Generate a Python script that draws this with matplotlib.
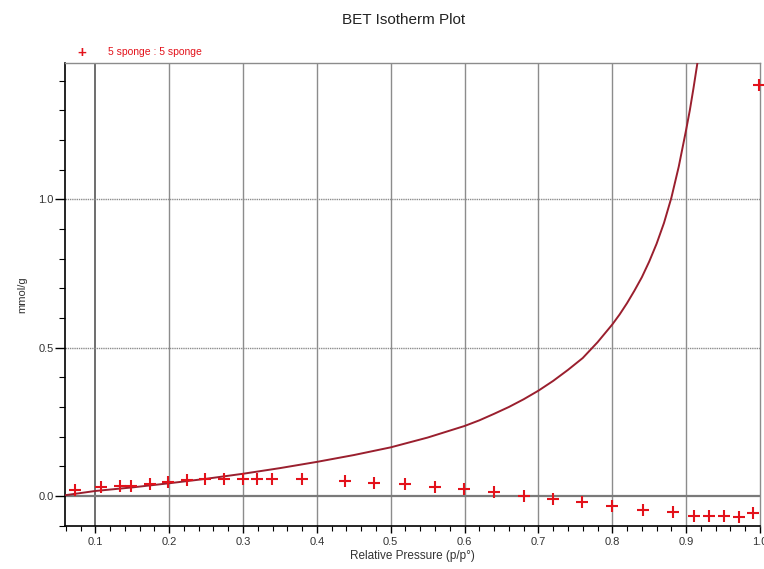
import matplotlib
matplotlib.use("Agg")
from matplotlib import pyplot as plt
from matplotlib.ticker import MultipleLocator

plt.rcParams['font.family'] = ['Liberation Sans', 'DejaVu Sans']

# measured isotherm points (relative pressure, mmol/g)
p_meas = [0.073, 0.108, 0.133, 0.149, 0.174, 0.199, 0.224, 0.248, 0.274, 0.300,
          0.319, 0.339, 0.380, 0.438, 0.478, 0.520, 0.560, 0.599, 0.640, 0.680,
          0.720, 0.759, 0.799, 0.841, 0.882, 0.911, 0.931, 0.951, 0.972, 0.991,
          0.999]
q_meas = [0.020, 0.029, 0.034, 0.035, 0.040, 0.048, 0.054, 0.057, 0.057, 0.057,
          0.057, 0.057, 0.057, 0.052, 0.045, 0.040, 0.031, 0.024, 0.015, 0.000,
          -0.010, -0.021, -0.033, -0.047, -0.055, -0.066, -0.066, -0.066, -0.070, -0.056,
          1.385]

# BET fit line
p_fit = [0.050, 0.06, 0.10, 0.15, 0.20, 0.25, 0.30, 0.35, 0.40, 0.45, 0.50, 0.55,
         0.60, 0.62, 0.64, 0.66, 0.68, 0.70, 0.72, 0.74, 0.76, 0.78,
         0.80, 0.81, 0.82, 0.83, 0.84, 0.85, 0.86, 0.87, 0.88, 0.89,
         0.90, 0.905, 0.91, 0.915, 0.92]
q_fit = [0.000, 0.003, 0.017, 0.029, 0.043, 0.058, 0.075, 0.094, 0.115, 0.138, 0.164, 0.197,
         0.236, 0.255, 0.277, 0.300, 0.326, 0.355, 0.388, 0.425, 0.465, 0.518,
         0.578, 0.612, 0.650, 0.692, 0.737, 0.790, 0.850, 0.920, 1.005, 1.110,
         1.234, 1.300, 1.375, 1.455, 1.540]

series_name = "5 sponge : 5 sponge"

fig = plt.figure(figsize=(7.64, 5.69), dpi=100)
ax = fig.add_axes([65 / 764, 1 - 526 / 569, 695 / 764, 463 / 569])

ax.set_xlim(0.059, 1.0)
ax.set_ylim(-0.101, 1.459)

# grid
for x in [0.2, 0.3, 0.4, 0.5, 0.6, 0.7, 0.8, 0.9]:
    ax.axvline(x, color='#8c8c8c', lw=1.0, zorder=1)
ax.axvline(0.1, color='#555555', lw=1.2, zorder=1)
for y in [0.5, 1.0]:
    ax.axhline(y, color='#8c8c8c', lw=1.0, ls=(0, (1, 0.6)), zorder=1)
ax.axhline(0.0, color='#7a7a7a', lw=1.6, zorder=1)

ax.plot(p_fit, q_fit, color='#9a1f2e', lw=1.4, zorder=3)
ax.plot(p_meas, q_meas, ls='none', marker='+', ms=8, mew=1.5,
        color='#e3121b', zorder=4, clip_on=False)

ax.xaxis.set_minor_locator(MultipleLocator(0.02))
ax.yaxis.set_minor_locator(MultipleLocator(0.1))
ax.set_xticks([0.1, 0.2, 0.3, 0.4, 0.5, 0.6, 0.7, 0.8, 0.9, 1.0])
ax.set_xticklabels(["0.1", "0.2", "0.3", "0.4", "0.5", "0.6", "0.7", "0.8", "0.9", "1.0"])
ax.set_yticks([0.0, 0.5, 1.0])
ax.set_yticklabels(["0.0", "0.5", "1.0"])

ax.tick_params(axis='x', which='major', direction='out', length=5, width=1,
               labelsize=8, labelcolor='#333333', pad=3)
ax.tick_params(axis='x', which='minor', direction='out', length=3.5, width=0.8)
ax.tick_params(axis='y', which='major', direction='out', length=7, width=1,
               labelsize=8, labelcolor='#333333', pad=1)
ax.tick_params(axis='y', which='minor', direction='out', length=4, width=0.8)

for side in ['left', 'bottom']:
    ax.spines[side].set_color('black')
    ax.spines[side].set_linewidth(1.2)
for side in ['top', 'right']:
    ax.spines[side].set_color('#8c8c8c')
    ax.spines[side].set_linewidth(1.0)

ax.set_xlabel("Relative Pressure (p/p°)", fontsize=8.5, color='#333333', labelpad=2)
ax.set_ylabel("mmol/g", fontsize=8, color='#333333', labelpad=8)

fig.text(404 / 764, 1 - 20 / 569, "BET Isotherm Plot", ha='center', va='center',
         fontsize=11, color='#222222')

# legend entry above the plot
fig.text(82 / 764, 1 - 53 / 569, "+", ha='center', va='center', fontsize=11,
         fontweight='bold', color='#e3121b')
fig.text(108 / 764, 1 - 52 / 569, series_name, ha='left', va='center',
         fontsize=7.5, color='#e3121b')

fig.savefig("out.png", dpi=100)
